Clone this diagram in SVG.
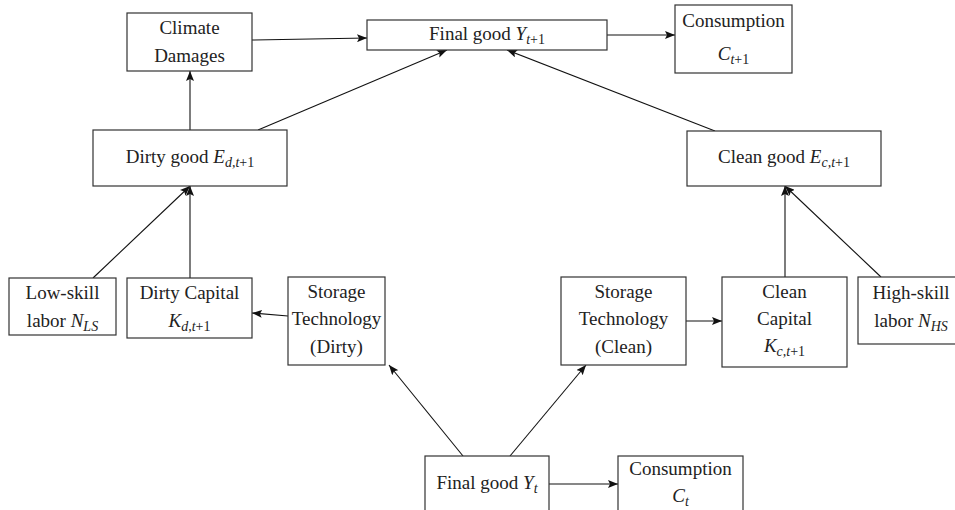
<svg xmlns="http://www.w3.org/2000/svg" width="955" height="510" viewBox="0 0 955 510">
<style>
.box{fill:#fff;stroke:#333;stroke-width:1.2}
text{font-family:"Liberation Serif","Times New Roman",serif;font-size:19px;fill:#222;text-anchor:middle}
.i{font-style:italic}
.s{font-size:14px}
.c line{stroke:#111;stroke-width:1.1;marker-end:url(#ah)}
</style>
<defs>
<marker id="ah" viewBox="0 0 10 8" refX="10" refY="4" markerWidth="10" markerHeight="8" markerUnits="userSpaceOnUse" orient="auto">
<path d="M0,0 L10,4 L0,8 L2,4 Z" fill="#111"/>
</marker>
</defs>
<g class="c" id="connectors">
<line x1="252" y1="40" x2="367" y2="38"/>
<line x1="607" y1="35" x2="675" y2="35"/>
<line x1="190" y1="130" x2="190" y2="71"/>
<line x1="258" y1="130" x2="447" y2="50"/>
<line x1="715" y1="131" x2="507" y2="50"/>
<line x1="93" y1="278" x2="190" y2="186"/>
<line x1="190" y1="278" x2="190" y2="186"/>
<line x1="288" y1="316" x2="252" y2="313"/>
<line x1="686" y1="321" x2="722" y2="321"/>
<line x1="785" y1="277" x2="785" y2="186"/>
<line x1="881" y1="277" x2="785" y2="186"/>
<line x1="463" y1="456" x2="389" y2="365"/>
<line x1="510" y1="456" x2="586" y2="365"/>
<line x1="549" y1="484" x2="618" y2="484"/>
</g>
<g id="climate">
<rect class="box" x="127" y="13" width="125" height="58"/>
<text x="189.5" y="34">Climate</text>
<text x="189.5" y="62">Damages</text>
</g>
<g id="finalNext">
<rect class="box" x="367" y="20" width="240" height="30"/>
<text x="487" y="40">Final good <tspan class="i">Y</tspan><tspan class="s" dy="4"><tspan class="i">t</tspan>+1</tspan></text>
</g>
<g id="consNext">
<rect class="box" x="675" y="5" width="117" height="68"/>
<text x="733.5" y="27">Consumption</text>
<text x="733.5" y="60"><tspan class="i">C</tspan><tspan class="s" dy="4"><tspan class="i">t</tspan>+1</tspan></text>
</g>
<g id="dirtyGood">
<rect class="box" x="93" y="130" width="194" height="56"/>
<text x="190" y="163">Dirty good <tspan class="i">E</tspan><tspan class="s" dy="4"><tspan class="i">d,t</tspan>+1</tspan></text>
</g>
<g id="cleanGood">
<rect class="box" x="687" y="131" width="194" height="55"/>
<text x="784" y="163">Clean good <tspan class="i">E</tspan><tspan class="s" dy="4"><tspan class="i">c,t</tspan>+1</tspan></text>
</g>
<g id="lowSkill">
<rect class="box" x="9" y="278" width="107" height="57"/>
<text x="62.5" y="299">Low-skill</text>
<text x="62.5" y="327">labor <tspan class="i">N</tspan><tspan class="s i" dy="4">LS</tspan></text>
</g>
<g id="dirtyCapital">
<rect class="box" x="127" y="278" width="125" height="60"/>
<text x="189.5" y="299">Dirty Capital</text>
<text x="189.5" y="327"><tspan class="i">K</tspan><tspan class="s" dy="4"><tspan class="i">d,t</tspan>+1</tspan></text>
</g>
<g id="storageDirty">
<rect class="box" x="288" y="277" width="97" height="88"/>
<text x="336.5" y="298">Storage</text>
<text x="336.5" y="325">Technology</text>
<text x="336.5" y="353">(Dirty)</text>
</g>
<g id="storageClean">
<rect class="box" x="561" y="277" width="125" height="88"/>
<text x="623.5" y="298">Storage</text>
<text x="623.5" y="325">Technology</text>
<text x="623.5" y="353">(Clean)</text>
</g>
<g id="cleanCapital">
<rect class="box" x="722" y="277" width="125" height="90"/>
<text x="784.5" y="298">Clean</text>
<text x="784.5" y="325">Capital</text>
<text x="784.5" y="352"><tspan class="i">K</tspan><tspan class="s" dy="4"><tspan class="i">c,t</tspan>+1</tspan></text>
</g>
<g id="highSkill">
<rect class="box" x="858" y="277" width="107" height="67"/>
<text x="911" y="299">High-skill</text>
<text x="911" y="327">labor <tspan class="i">N</tspan><tspan class="s i" dy="4">HS</tspan></text>
</g>
<g id="finalNow">
<rect class="box" x="425" y="456" width="124" height="60"/>
<text x="487" y="489">Final good <tspan class="i">Y</tspan><tspan class="s i" dy="4">t</tspan></text>
</g>
<g id="consNow">
<rect class="box" x="618" y="456" width="125" height="60"/>
<text x="680.5" y="475">Consumption</text>
<text x="680.5" y="502"><tspan class="i">C</tspan><tspan class="s i" dy="4">t</tspan></text>
</g>
</svg>
